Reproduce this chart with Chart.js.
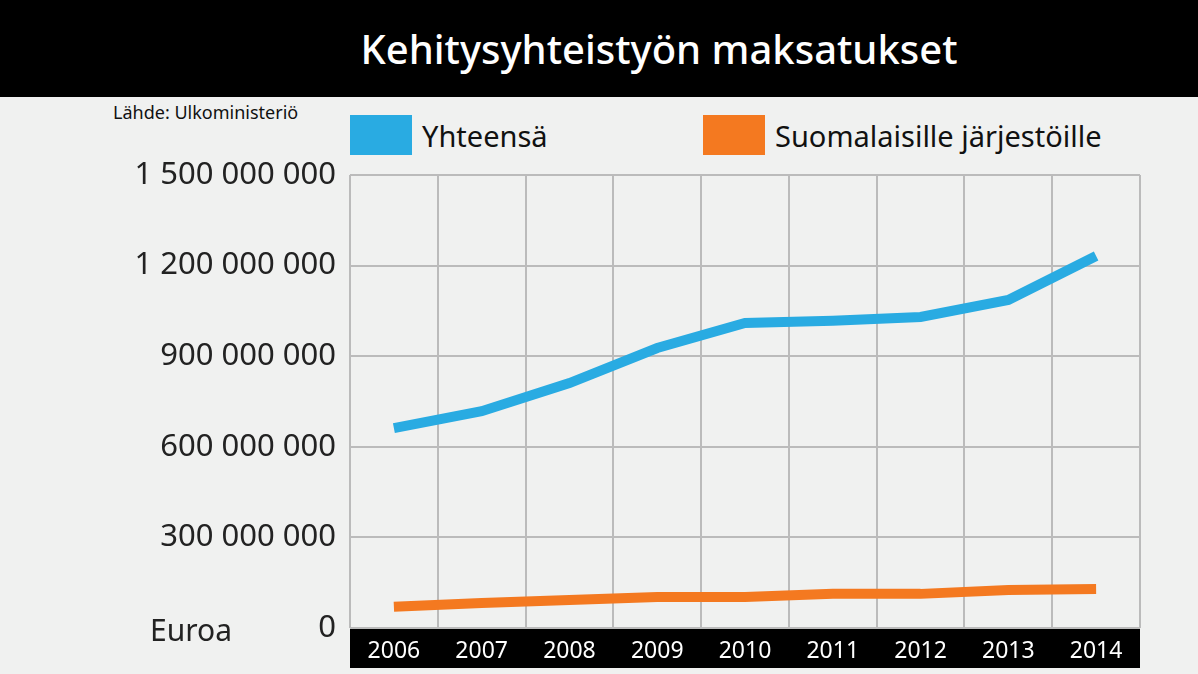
<!DOCTYPE html>
<html><head><meta charset="utf-8">
<script src="https://cdn.jsdelivr.net/npm/chart.js@4"></script>
<style>
html,body{margin:0;padding:0;background:#f0f1f0;width:1198px;height:674px;overflow:hidden;font-family:"Noto Sans",sans-serif;}
#title{position:absolute;left:0;top:0;width:1198px;height:97px;background:#000;color:#fff;font-size:40px;font-weight:500;text-align:center;line-height:97px;text-indent:120px;}
#src{position:absolute;left:113px;top:100px;font-size:18px;color:#111;}
.lg{position:absolute;top:115px;height:40px;display:flex;align-items:center;font-size:29px;color:#111;}
.lg span{display:inline-block;width:62px;height:40px;margin-right:10px;}
#wrap{position:absolute;left:0;top:0;width:1198px;height:674px;}
</style></head><body>
<div id="title">Kehitysyhteistyön maksatukset</div>
<div id="src">Lähde: Ulkoministeriö</div>
<div class="lg" style="left:350px"><span style="background:#29abe2"></span>Yhteensä</div>
<div class="lg" style="left:703px"><span style="background:#f47920"></span>Suomalaisille järjestöille</div>
<div id="wrap"><canvas id="c" width="1198" height="674"></canvas></div>
<script>
const years=["2006","2007","2008","2009","2010","2011","2012","2013","2014"];
const total=[662e6,718e6,811e6,927e6,1010e6,1017e6,1030e6,1086e6,1232e6];
const ngo=[70e6,83e6,93e6,103e6,103e6,113e6,113e6,126e6,129e6];
const fmt=v=>v.toString().replace(/\B(?=(\d{3})+(?!\d))/g," ");
const bg={id:'bg',beforeDraw(c){const a=c.chartArea,x=c.ctx;x.save();x.fillStyle='#000';x.fillRect(a.left,a.bottom,a.right-a.left,40);
x.fillStyle='#222';x.font='30px "Noto Sans"';x.textBaseline='middle';x.fillText('Euroa',150,a.bottom+4);x.restore();}};
new Chart(document.getElementById('c'),{type:'line',
data:{labels:years,datasets:[
{label:'Yhteensä',data:total,borderColor:'#29abe2',borderWidth:10,pointRadius:0,tension:0},
{label:'Suomalaisille järjestöille',data:ngo,borderColor:'#f47920',borderWidth:10,pointRadius:0,tension:0}]},
options:{responsive:false,animation:false,
layout:{padding:{left:0,right:58,top:175,bottom:0}},
plugins:{legend:{display:false},tooltip:{enabled:false}},
scales:{
x:{offset:true,grid:{offset:true,color:'#bbb',lineWidth:2,drawTicks:false},border:{display:false},
ticks:{color:'#fff',font:{size:23,family:'"Liberation Sans Narrow","Noto Sans"'},padding:10},
afterFit(s){s.height=46;}},
y:{min:0,max:1500000000,grid:{color:'#bbb',lineWidth:2,drawTicks:false},border:{display:false},
ticks:{stepSize:300000000,color:'#222',font:{size:31,family:'"Noto Sans"'},padding:14,callback:v=>fmt(v)},
afterFit(s){s.width=350;}}}},
plugins:[bg]});
</script></body></html>
